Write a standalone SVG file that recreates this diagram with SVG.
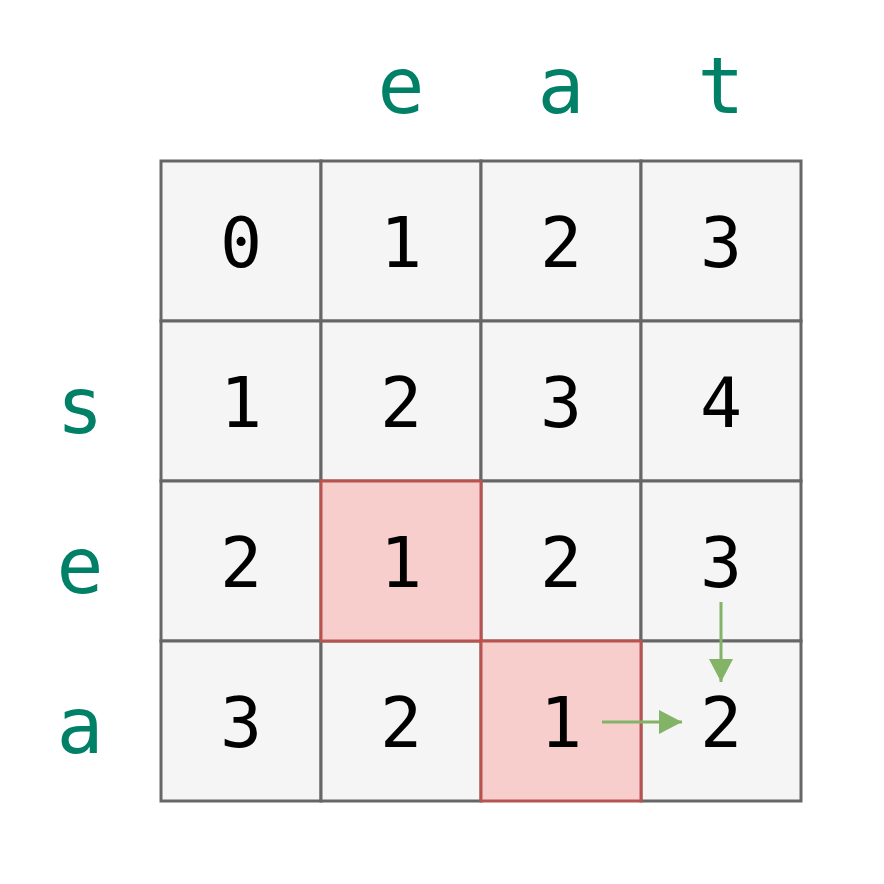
<svg xmlns="http://www.w3.org/2000/svg" width="884" height="884" viewBox="0 0 884 884">
<style>
.cell{fill:#f5f5f5;stroke:#666666;stroke-width:3}
.hl{fill:#f8cecc;stroke:#b85450;stroke-width:3}
.num{font-family:"DejaVu Sans Mono",monospace;font-size:70px;fill:#000000;text-anchor:middle}
.lab{font-family:"DejaVu Sans Mono",monospace;font-size:78px;fill:#008066;text-anchor:middle}
.arr{stroke:#82b366;stroke-width:3;fill:none}
</style>
<defs>
<marker id="ah" viewBox="0 0 24 24" refX="23" refY="12" markerWidth="24" markerHeight="24" markerUnits="userSpaceOnUse" orient="auto">
<path d="M0,0 L23,12 L0,24 Z" fill="#82b366"/>
</marker>
</defs>
<rect width="884" height="884" fill="#ffffff"/>
<g id="labels">
<text class="lab" x="401" y="113">e</text>
<text class="lab" x="561" y="113">a</text>
<text class="lab" x="721" y="113">t</text>
<text class="lab" x="80" y="433">s</text>
<text class="lab" x="80" y="593">e</text>
<text class="lab" x="80" y="753">a</text>
</g>
<g id="grid">
<g id="r0c0"><rect class="cell" x="161" y="161" width="160" height="160"/><text class="num" x="241" y="267">0</text></g>
<g id="r0c1"><rect class="cell" x="321" y="161" width="160" height="160"/><text class="num" x="401" y="267">1</text></g>
<g id="r0c2"><rect class="cell" x="481" y="161" width="160" height="160"/><text class="num" x="561" y="267">2</text></g>
<g id="r0c3"><rect class="cell" x="641" y="161" width="160" height="160"/><text class="num" x="721" y="267">3</text></g>
<g id="r1c0"><rect class="cell" x="161" y="321" width="160" height="160"/><text class="num" x="241" y="427">1</text></g>
<g id="r1c1"><rect class="cell" x="321" y="321" width="160" height="160"/><text class="num" x="401" y="427">2</text></g>
<g id="r1c2"><rect class="cell" x="481" y="321" width="160" height="160"/><text class="num" x="561" y="427">3</text></g>
<g id="r1c3"><rect class="cell" x="641" y="321" width="160" height="160"/><text class="num" x="721" y="427">4</text></g>
<g id="r2c0"><rect class="cell" x="161" y="481" width="160" height="160"/><text class="num" x="241" y="587">2</text></g>
<g id="r2c2"><rect class="cell" x="481" y="481" width="160" height="160"/><text class="num" x="561" y="587">2</text></g>
<g id="r2c3"><rect class="cell" x="641" y="481" width="160" height="160"/><text class="num" x="721" y="587">3</text></g>
<g id="r3c0"><rect class="cell" x="161" y="641" width="160" height="160"/><text class="num" x="241" y="747">3</text></g>
<g id="r3c1"><rect class="cell" x="321" y="641" width="160" height="160"/><text class="num" x="401" y="747">2</text></g>
<g id="r3c3"><rect class="cell" x="641" y="641" width="160" height="160"/><text class="num" x="721" y="747">2</text></g>
<g id="r2c1"><rect class="hl" x="321" y="481" width="160" height="160"/><text class="num" x="401" y="587">1</text></g>
<g id="r3c2"><rect class="hl" x="481" y="641" width="160" height="160"/><text class="num" x="561" y="747">1</text></g>
</g>
<g id="connectors">
<line class="arr" x1="721" y1="602" x2="721" y2="682" marker-end="url(#ah)"/>
<line class="arr" x1="602" y1="722" x2="682" y2="722" marker-end="url(#ah)"/>
</g>
</svg>
